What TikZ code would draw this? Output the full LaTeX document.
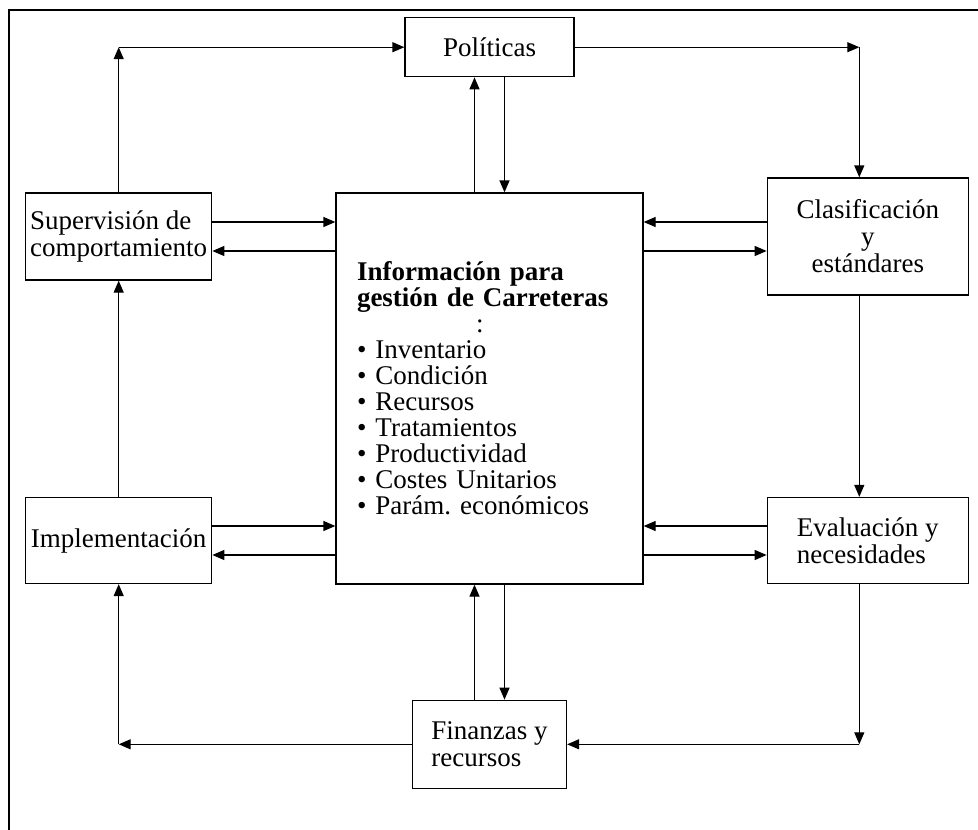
\documentclass[tikz,border=0pt]{standalone}
\usepackage{fontspec}
\setmainfont{Liberation Serif}
\usetikzlibrary{arrows.meta, positioning}
\tikzset{
	box/.style={
		rectangle,
		draw=black,
		line width=1.3pt,
		inner sep=2pt,
		align=center,
		font=\fontsize{27}{27}\selectfont
	},
	infobox/.style={
		rectangle,
		draw=black,
		line width=1.3pt,
		minimum width=307pt,
		minimum height=391pt,
		text width=265pt,
		align=left,
		font=\fontsize{27}{26}\selectfont
	},
	arrow/.style={line width=1.3pt,-{Triangle[length=12pt,width=10pt]}}
}

\begin{document}
\begin{tikzpicture}[x=1pt, y=1pt, node distance=115pt and 123pt]
	\useasboundingbox (0,0) rectangle (978,-830);
	\draw [line width=1.5pt] (9,-830) -- (9,-10) -- (978,-10);

	\node (info) [infobox] at (489.5,-388.5) {\textbf{Información para}\\\textbf{gestión de Carreteras}\\\hspace*{119pt}:\\\textbullet\ Inventario\\\textbullet\ Condición\\\textbullet\ Recursos\\\textbullet\ Tratamientos\\\textbullet\ Productividad\\\textbullet\ Costes Unitarios\\\textbullet\ Parám.\ económicos};

	\node (pol) [box, minimum width=169pt, minimum height=59pt, above=of info] {Políticas};
	\node (fin) [box, minimum width=154pt, minimum height=88pt, align=left, below=of info] {Finanzas y\\recursos};

	\node (sup) [box, minimum width=186pt, minimum height=87pt, align=left, left=of info, yshift=152pt] {Supervisión de\\comportamiento};
	\node (impl) [box, minimum width=186pt, minimum height=86pt, left=of info, yshift=-152pt] {Implementación};
	\node (clas) [box, minimum width=201pt, minimum height=117pt, right=of info, yshift=152pt] {Clasificación\\y\\estándares};
	\node (eval) [box, minimum width=201pt, minimum height=86pt, align=left, right=of info, yshift=-152pt] {Evaluación y\\necesidades};

	\coordinate (tl) at (sup.north |- pol.west);
	\coordinate (tr) at ([xshift=-8.5pt]clas.north |- pol.east);
	\coordinate (br) at (tr |- fin.east);
	\coordinate (bl) at (tl |- fin.west);

	% outer loop
	\draw [arrow] (sup.north) -- (tl);
	\draw [arrow] (tl) -- (pol.west);
	\draw [arrow] (pol.east) -- (tr);
	\draw [arrow] (tr) -- (tr |- clas.north);
	\draw [arrow] ([xshift=-8.5pt]clas.south) -- ([xshift=-8.5pt]eval.north);
	\draw [arrow] ([xshift=-8.5pt]eval.south) -- (br);
	\draw [arrow] (br) -- (fin.east);
	\draw [arrow] (fin.west) -- (bl);
	\draw [arrow] (bl) -- (impl.south);
	\draw [arrow] (impl.north) -- (sup.south);

	% to and from the central box
	\draw [arrow] ([xshift=-15pt]info.north) -- ([xshift=-15pt]info.north |- pol.south);
	\draw [arrow] ([xshift=15pt]info.north |- pol.south) -- ([xshift=15pt]info.north);
	\draw [arrow] ([xshift=-15pt]info.south |- fin.north) -- ([xshift=-15pt]info.south);
	\draw [arrow] ([xshift=15pt]info.south) -- ([xshift=15pt]info.south |- fin.north);

	\draw [arrow] ([yshift=14.5pt]sup.east) -- ([yshift=14.5pt]sup.east -| info.west);
	\draw [arrow] ([yshift=-14.5pt]sup.east -| info.west) -- ([yshift=-14.5pt]sup.east);
	\draw [arrow] ([yshift=14.5pt]impl.east) -- ([yshift=14.5pt]impl.east -| info.west);
	\draw [arrow] ([yshift=-14.5pt]impl.east -| info.west) -- ([yshift=-14.5pt]impl.east);
	\draw [arrow] ([yshift=14.5pt]clas.west) -- ([yshift=14.5pt]clas.west -| info.east);
	\draw [arrow] ([yshift=-14.5pt]clas.west -| info.east) -- ([yshift=-14.5pt]clas.west);
	\draw [arrow] ([yshift=14.5pt]eval.west) -- ([yshift=14.5pt]eval.west -| info.east);
	\draw [arrow] ([yshift=-14.5pt]eval.west -| info.east) -- ([yshift=-14.5pt]eval.west);
\end{tikzpicture}
\end{document}
